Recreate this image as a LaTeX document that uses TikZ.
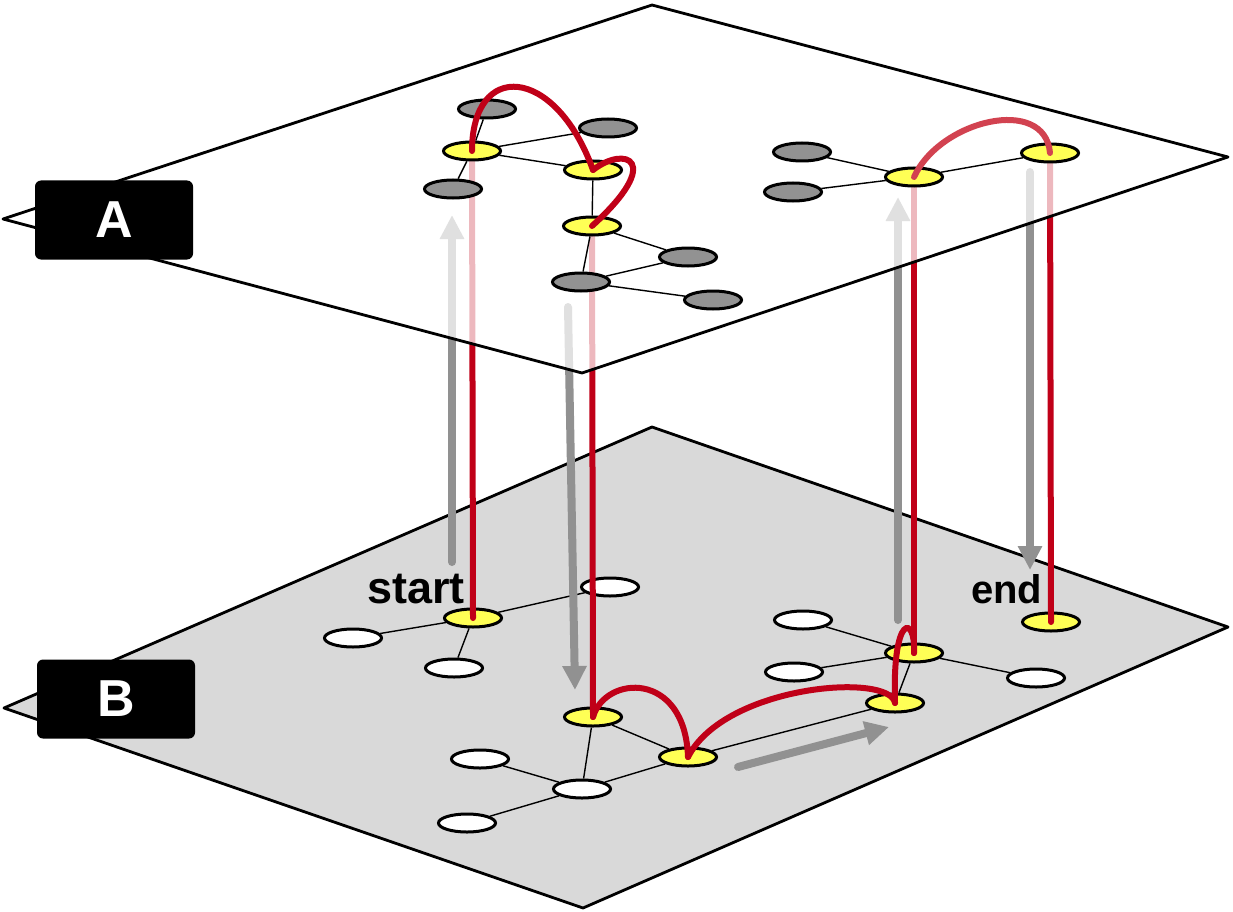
\documentclass[tikz,border=0pt]{standalone}
\usepackage{fontspec}
\setmainfont{Liberation Sans}
\usepackage{tikz}
\usetikzlibrary{arrows.meta,shapes.geometric}
\definecolor{dRed}{RGB}{192,0,24}
\definecolor{dRedLt}{RGB}{210,66,80}
\definecolor{dYel}{RGB}{255,255,85}
\definecolor{dGray}{RGB}{146,146,146}
\definecolor{dArrow}{RGB}{145,145,145}
\definecolor{dPlane}{RGB}{217,217,217}
\pgfdeclarelayer{bplane}
\pgfdeclarelayer{risers}
\pgfdeclarelayer{aplane}
\pgfsetlayers{bplane,risers,aplane,main}
\tikzset{
  vx/.style={ellipse, draw=black, line width=3pt, minimum width=57pt,
             minimum height=18pt, inner sep=0pt},
  vxA/.style={vx, fill=dGray},
  vxB/.style={vx, fill=white},
  vxP/.style={vx, fill=dYel},
  link/.style={draw=black, line width=1.4pt},
  route/.style={draw=dRed, line width=6pt, line cap=round},
  routelt/.style={route, draw=dRedLt},
  jump/.style={draw=dArrow, line width=8pt, line cap=round,
               -{Triangle[length=24pt,width=23pt]}},
  plane/.style={draw=black, line width=2.8pt, line join=round},
  layertag/.style={rectangle, rounded corners=6pt, fill=black, text=white,
                   minimum width=158pt, minimum height=79pt,
                   font=\fontsize{52}{52}\selectfont\bfseries},
  lbl/.style={font=\fontsize{42}{42}\selectfont\bfseries, inner sep=0pt,
              anchor=base west},
}

\begin{document}
\begin{tikzpicture}[x=1pt, y=-1pt]
  \useasboundingbox (0,0) rectangle (1233,912);

  % ---- plane B (lower layer) ----
  \begin{pgfonlayer}{bplane}
  \draw[plane, fill=dPlane] (4,708) -- (652,427) -- (1228,627) -- (583,908) -- cycle;

  \node[vxP] (ys)  at (473,618) {};
  \node[vxB] (wb1) at (353,638) {};
  \node[vxB] (wb2) at (454,668) {};
  \node[vxB] (wb3) at (610,587) {};
  \node[vxP] (yb1) at (593,717) {};
  \node[vxP] (yb2) at (688,757) {};
  \node[vxB] (wb4) at (480,759) {};
  \node[vxB] (wb5) at (582,789) {};
  \node[vxB] (wb6) at (467,823) {};
  \node[vxB] (wb7) at (803,620) {};
  \node[vxB] (wb8) at (794,672) {};
  \node[vxP] (yb3) at (914,653) {};
  \node[vxP] (yb4) at (895,703) {};
  \node[vxB] (wb9) at (1036,678) {};
  \node[vxP] (ye)  at (1051,622) {};

  \draw[link] (ys) -- (wb1);
  \draw[link] (ys) -- (wb2);
  \draw[link] (ys) -- (wb3);
  \draw[link] (yb1) -- (yb2);
  \draw[link] (yb1) -- (wb5);
  \draw[link] (wb5) -- (wb4);
  \draw[link] (wb5) -- (wb6);
  \draw[link] (wb5) -- (yb2);
  \draw[link] (yb2) -- (yb4);
  \draw[link] (wb7) -- (yb3);
  \draw[link] (wb8) -- (yb3);
  \draw[link] (yb3) -- (wb9);
  \draw[link] (yb3) -- (yb4);

  % walk on B
  \draw[route] (yb1.center) .. controls (605,675) and (685,670) .. (yb2.center);
  \draw[route] (yb2.center) .. controls (725,685) and (890,672) .. (yb4.center);
  \draw[route] (yb4.center) .. controls (892,612) and (916,615) .. (yb3.center);
  \end{pgfonlayer}

  % ---- plane A (upper layer, see-through) ----
  \begin{pgfonlayer}{aplane}
  \draw[plane, fill=white, fill opacity=0.72] (3,219) -- (652,5) -- (1228,157) -- (582,373) -- cycle;
  \end{pgfonlayer}

  \node[vxA] (ga1) at (487,109) {};
  \node[vxP] (ya1) at (472,151) {};
  \node[vxA] (ga2) at (608,128) {};
  \node[vxA] (ga3) at (453,189) {};
  \node[vxP] (ya2) at (593,170) {};
  \node[vxP] (ya3) at (592,226) {};
  \node[vxA] (ga4) at (688,257) {};
  \node[vxA] (ga5) at (581,282) {};
  \node[vxA] (ga6) at (713,300) {};
  \node[vxA] (ga7) at (802,152) {};
  \node[vxA] (ga8) at (793,192) {};
  \node[vxP] (ya4) at (914,177) {};
  \node[vxP] (ya5) at (1050,153) {};

  \draw[link] (ga1) -- (ya1);
  \draw[link] (ya1) -- (ga3);
  \draw[link] (ya1) -- (ga2);
  \draw[link] (ya1) -- (ya2);
  \draw[link] (ya2) -- (ya3);
  \draw[link] (ya3) -- (ga4);
  \draw[link] (ya3) -- (ga5);
  \draw[link] (ga5) -- (ga4);
  \draw[link] (ga5) -- (ga6);
  \draw[link] (ga7) -- (ya4);
  \draw[link] (ga8) -- (ya4);
  \draw[link] (ya4) -- (ya5);

  % walk on A
  \draw[route] (ya1.center) .. controls (472,60) and (555,65) .. (ya2.center);
  \draw[route] (ya2.center) .. controls (625,145) and (665,160) .. (ya3.center);
  \draw[routelt] (ya4.center) .. controls (940,120) and (1045,95) .. (ya5.center);

  % ---- jumps between the layers ----
  \coordinate (j1s) at (452,562);  \coordinate (j1e) at (452,215);
  \coordinate (j2s) at (568,307);  \coordinate (j2e) at (575,690);
  \coordinate (j3s) at (898,620);  \coordinate (j3e) at (898,197);
  \coordinate (j4s) at (1030,172); \coordinate (j4e) at (1030,570);
  \coordinate (j5s) at (738,767);  \coordinate (j5e) at (889,727);

  \begin{pgfonlayer}{risers}
  \foreach \j in {1,...,5}{ \draw[jump] (j\j s) -- (j\j e); }
  \draw[route] (ys.center) -- (ya1.center);
  \draw[route] (ya3.center) -- (yb1.center);
  \draw[route] (yb3.center) -- (ya4.center);
  \draw[route] (ya5.center) -- (ye.center);
  \end{pgfonlayer}

  % ---- labels ----
  \node[lbl, font=\fontsize{45}{45}\selectfont\bfseries] (st) at (367,603) {start};
  \node[lbl, font=\fontsize{40}{40}\selectfont\bfseries] (en) at (971,603) {end};
  \node[layertag] (tA) at (114,220) {A};
  \node[layertag] (tB) at (116,699) {B};

\end{tikzpicture}
\end{document}
